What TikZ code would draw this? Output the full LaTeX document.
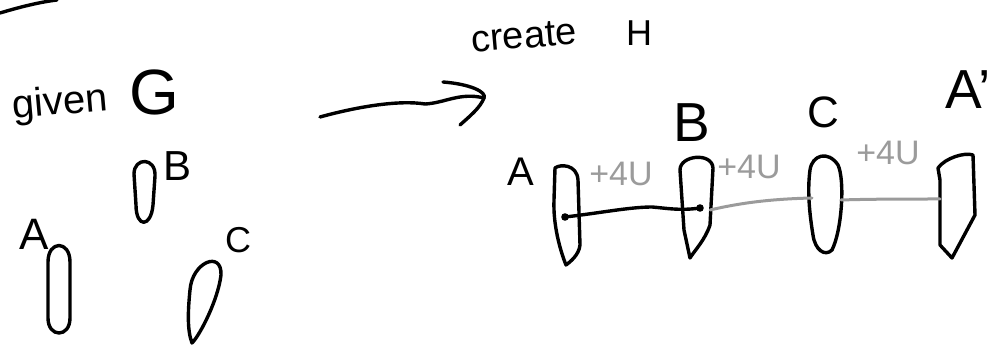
\documentclass[tikz,border=0pt]{standalone}
\usepackage{fontspec}
\setmainfont{Liberation Sans}
\definecolor{penGray}{RGB}{155,155,155}
\begin{document}
\begin{tikzpicture}[x=1pt,y=-1pt,
  ink/.style={line width=3.4pt,line cap=round,line join=round},
  grayink/.style={line width=3pt,line cap=round,line join=round,draw=penGray},
  lbl/.style={inner sep=0pt,font=\fontsize{#1}{#1}\selectfont},
  wlbl/.style={inner sep=0pt,text=penGray,font=\fontsize{34}{34}\selectfont}]
\useasboundingbox (0,0) rectangle (989,347);

% stray stroke top-left
\draw[ink] (0,13) .. controls (20,7) and (40,2) .. (57,0);

% ---- given G ----
\node[lbl=40,rotate=5] (given) at (60,104) {given};
\node[lbl=64] (gG) at (154,92) {G};

% G vertices
\draw[ink] (48,262) .. controls (48,240) and (70,240) .. (70,262) -- (70,318) .. controls (70,338) and (48,338) .. (48,318) -- cycle;
\draw[ink] (134,174) .. controls (134,157) and (156,157) .. (155,176) -- (153,205) .. controls (151,228) and (136,228) .. (136,205) -- cycle;
\draw[ink] (190,290) .. controls (192,262) and (222,250) .. (221,275) .. controls (218,300) and (200,335) .. (192,343) .. controls (187,330) and (188,310) .. (190,290) -- cycle;
\node[lbl=44] (gA) at (34,234) {A};
\node[lbl=42] (gB) at (178,166) {B};
\node[lbl=36] (gC) at (238,240) {C};

% ---- arrow ----
\coordinate (arS) at (320,117);
\coordinate (arE) at (484,98);
\draw[ink] (arS) .. controls (360,106) and (400,100) .. (425,104) .. controls (445,103) and (460,92) .. (arE);
\draw[ink] (443,82) .. controls (470,84) and (487,92) .. (arE) .. controls (480,108) and (470,116) .. (460,125);

% ---- create H ----
\node[lbl=38,rotate=5] (create) at (524,36) {create};
\node[lbl=36] (hH) at (639,33) {H};

% H vertices
\draw[ink] (555,168) .. controls (560,164) and (577,164) .. (578,180) -- (580,245) .. controls (579,255) and (570,262) .. (566,265) .. controls (560,250) and (553,225) .. (554,200) -- cycle;
\draw[ink] (680,170) .. controls (680,155) and (712,152) .. (713,168) -- (710,225) .. controls (705,240) and (695,250) .. (690,258) -- (684,230) -- cycle;
\draw[ink] (810,170) .. controls (812,155) and (828,150) .. (838,165) .. controls (845,180) and (842,230) .. (832,250) .. controls (825,257) and (815,250) .. (813,235) .. controls (808,205) and (808,185) .. (810,170) -- cycle;
\draw[ink] (938,168) .. controls (945,158) and (965,152) .. (973,155) -- (975,215) -- (952,258) -- (940,245) -- (940,180) -- cycle;

\node[lbl=40] (hA) at (521,172) {A};
\node[lbl=55] (hB) at (692,123) {B};
\node[lbl=44] (hC) at (823,112) {C};
\node[lbl=55] (hAp) at (968,90) {A'};

% edges
\coordinate (dA) at (565,217);
\coordinate (dB) at (700,208);
\coordinate (eB) at (710,210);
\coordinate (eC1) at (812,198);
\coordinate (eC2) at (841,200);
\coordinate (eAp) at (940,199);
\draw[ink] (dA) .. controls (600,213) and (630,207) .. (652,207) .. controls (665,208) and (680,211) .. (dB);
\fill (dA) circle (3.8);
\fill (dB) circle (3.8);
\draw[grayink] (eB) .. controls (740,203) and (770,199) .. (eC1);
\draw[grayink] (eC2) .. controls (870,199) and (910,199) .. (eAp);

\node[wlbl] (w1) at (621,174) {+4U};
\node[wlbl] (w2) at (749,167) {+4U};
\node[wlbl] (w3) at (888,153) {+4U};
\end{tikzpicture}
\end{document}
